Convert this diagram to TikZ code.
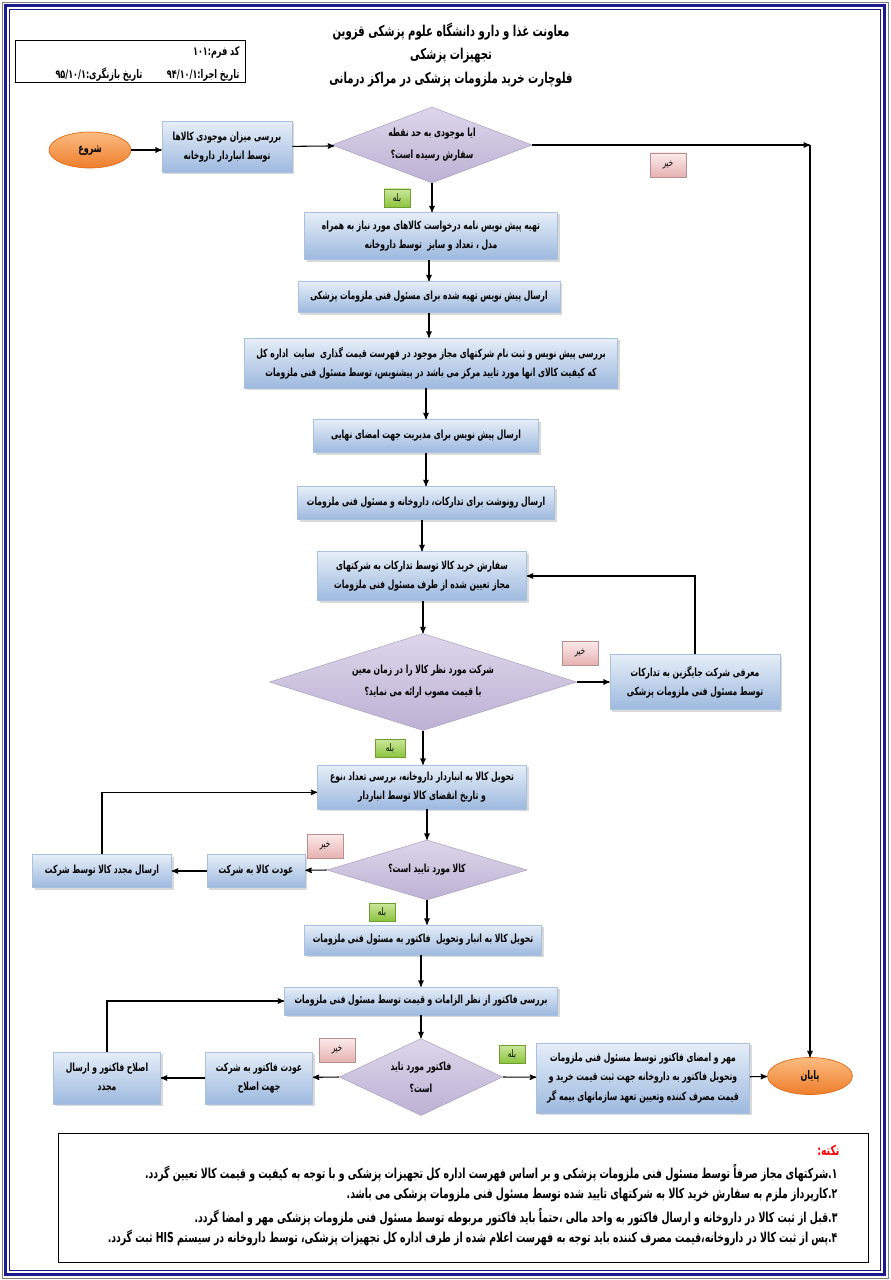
\documentclass[tikz,border=0pt]{standalone}
\usepackage{fontspec}
\newfontfamily\arabicfont[Script=Arabic,FakeStretch=0.68]{DejaVu Sans}
\TeXXeTstate=1
\usetikzlibrary{arrows,shapes.geometric,shadows}
\newcommand{\fatext}[1]{\beginR #1\endR}
\definecolor{boxtop}{HTML}{E6EEF8}
\definecolor{boxbot}{HTML}{9DB9DF}
\definecolor{boxline}{HTML}{A9C0DE}
\definecolor{decitop}{HTML}{DDD6EA}
\definecolor{decibot}{HTML}{BDB1D4}
\definecolor{deciline}{HTML}{ABA1C2}
\definecolor{termtop}{HTML}{FBBB80}
\definecolor{termbot}{HTML}{EE7E2C}
\definecolor{termline}{HTML}{E0690C}
\definecolor{yestop}{HTML}{CBE79A}
\definecolor{yesbot}{HTML}{8CC43F}
\definecolor{noftop}{HTML}{FCEAEA}
\definecolor{nofbot}{HTML}{E6B2B2}
\definecolor{frameblue}{HTML}{1B1B8E}
\tikzset{size px/.style 2 args={minimum width=#1*0.75pt,minimum height=#2*0.75pt}}

\begin{document}
\begin{tikzpicture}[x=0.75pt,y=-0.75pt,>=stealth',thick,
        process node/.style={rectangle,draw=boxline,line width=0.4pt,top color=boxtop,bottom color=boxbot,
            drop shadow={opacity=0.3,shadow xshift=1.5pt,shadow yshift=-1.5pt},
            font=\arabicfont\bfseries\fontsize{8.4}{14.5}\selectfont,align=center,inner sep=1pt},
        decision node/.style={diamond,draw=deciline,line width=0.4pt,top color=decitop,bottom color=decibot,
            font=\arabicfont\bfseries\fontsize{8.4}{16.5}\selectfont,align=center,inner sep=0pt},
        terminal node/.style={ellipse,draw=termline,line width=0.5pt,top color=termtop,bottom color=termbot,
            font=\arabicfont\bfseries\fontsize{8.9}{10}\selectfont,inner sep=0pt},
        yes tag/.style={rectangle,draw=yesbot!80!black,line width=0.3pt,top color=yestop,bottom color=yesbot,
            drop shadow={opacity=0.25,shadow xshift=1pt,shadow yshift=-1pt},
            font=\arabicfont\fontsize{7.8}{8}\selectfont,size px={26}{18},inner sep=0pt},
        no tag/.style={rectangle,draw=nofbot!80!black,line width=0.3pt,top color=noftop,bottom color=nofbot,
            drop shadow={opacity=0.25,shadow xshift=1pt,shadow yshift=-1pt},
            font=\arabicfont\fontsize{7.8}{8}\selectfont,size px={36}{24},inner sep=0pt},
        title text/.style={font=\arabicfont\bfseries\fontsize{11.2}{12}\selectfont,inner sep=0pt},
        form text/.style={font=\arabicfont\bfseries\fontsize{8.9}{10}\selectfont,inner sep=0pt,anchor=east},
        note text/.style={font=\arabicfont\bfseries\fontsize{10.3}{11}\selectfont,inner sep=0pt,anchor=east}]
        \useasboundingbox (0,0) rectangle (890,1280);
        % page frame
        \draw[gray,line width=0.5pt] (2,2) rectangle (888,1278);
        \draw[frameblue,line width=2.6pt] (5.5,5.5) rectangle (884.5,1274.5);
        \draw[frameblue,line width=0.6pt] (9.5,9.5) rectangle (880.5,1270.5);
        % header
        \draw[line width=0.6pt] (15,40) rectangle (245,82);
        \node[form text] (formcode) at (240,52) {\fatext{کد فرم:۱۰۱}};
        \node[form text] (execdate) at (240,75) {\fatext{تاریخ اجرا:\beginL ۹۴/۱۰/۱\endL}};
        \node[form text] (revdate) at (143,75) {\fatext{تاریخ بازنگری:\beginL ۹۵/۱۰/۱\endL}};
        \node[title text] (title1) at (451,32) {\fatext{معاونت غذا و دارو دانشگاه علوم پزشکی قزوین}};
        \node[title text] (title2) at (451,56) {\fatext{تجهیزات پزشکی}};
        \node[title text] (title3) at (451,80) {\fatext{فلوچارت خرید ملزومات پزشکی در مراکز درمانی}};
        % flow nodes
        \node[terminal node,size px={82}{36}] (start) at (90,150) {\fatext{شروع}};
        \node[process node,size px={130}{51}] (stock) at (227,147) {\fatext{بررسی میزان موجودی کالاها}\\\fatext{توسط انباردار داروخانه}};
        \node[decision node,aspect=2.63,size px={200}{76}] (reorder) at (432,145) {\fatext{ایا موجودی به حد نقطه}\\\fatext{سفارش رسیده است؟}};
        \node[process node,size px={253}{47}] (draft) at (431,236) {\fatext{تهیه پیش نویس نامه درخواست کالاهای مورد نیاز به همراه}\\\fatext{مدل ، تعداد و سایز\ \ توسط داروخانه}};
        \node[process node,size px={262}{31}] (senddraft) at (429,297) {\fatext{ارسال پیش نویس تهیه شده برای مسئول فنی ملزومات پزشکی}};
        \node[process node,size px={373}{50}] (review) at (431,363) {\fatext{بررسی پیش نویس و ثبت نام شرکتهای مجاز موجود در فهرست قیمت گذاری\ \ سایت\ \ اداره کل}\\\fatext{که کیفیت کالای انها مورد تایید مرکز می باشد در پیشنویس، توسط مسئول فنی ملزومات}};
        \node[process node,size px={225}{33}] (sign) at (426,436) {\fatext{ارسال پیش نویس برای مدیریت جهت امضای نهایی}};
        \node[process node,size px={257}{33}] (copies) at (426,503) {\fatext{ارسال رونوشت برای تدارکات، داروخانه و مسئول فنی ملزومات}};
        \node[process node,size px={209}{49}] (order) at (422,576) {\fatext{سفارش خرید کالا توسط تدارکات به شرکتهای}\\\fatext{مجاز تعیین شده از طرف مسئول فنی ملزومات}};
        \node[decision node,aspect=3.16,size px={307}{97}] (ontime) at (423,682) {\fatext{شرکت مورد نظر کالا را در زمان معین}\\\fatext{با قیمت مصوب ارائه می نماید؟}};
        \node[process node,size px={170}{55}] (replace) at (695,682) {\fatext{معرفی شرکت جایگزین به تدارکات}\\\fatext{توسط مسئول فنی ملزومات پزشکی}};
        \node[process node,size px={209}{44}] (deliver) at (422,787) {\fatext{تحویل کالا به انباردار داروخانه، بررسی تعداد ،نوع}\\\fatext{و تاریخ انقضای کالا توسط انباردار}};
        \node[decision node,aspect=3.33,size px={200}{60}] (goodsok) at (427,870) {\fatext{کالا مورد تایید است؟}};
        \node[process node,size px={98}{33}] (retgoods) at (256,871) {\fatext{عودت کالا به شرکت}};
        \node[process node,size px={139}{33}] (resend) at (102,871) {\fatext{ارسال مجدد کالا توسط شرکت}};
        \node[process node,size px={237}{30}] (store) at (423,940) {\fatext{تحویل کالا به انبار وتحویل\ \ فاکتور به مسئول فنی ملزومات}};
        \node[process node,size px={273}{28}] (invcheck) at (421,1001) {\fatext{بررسی فاکتور از نظر الزامات و قیمت توسط مسئول فنی ملزومات}};
        \node[decision node,aspect=2.12,size px={163}{77}] (invok) at (421,1077) {\fatext{فاکتور مورد تاید}\\\fatext{است؟}};
        \node[process node,size px={107}{52}] (retinv) at (259,1078) {\fatext{عودت فاکتور به شرکت}\\\fatext{جهت اصلاح}};
        \node[process node,size px={107}{52}] (fixinv) at (107,1078) {\fatext{اصلاح فاکتور و ارسال}\\\fatext{مجدد}};
        \node[process node,size px={213}{70}] (stamp) at (643,1078) {\fatext{مهر و امضای فاکتور توسط مسئول فنی ملزومات}\\\fatext{وتحویل فاکتور به داروخانه جهت ثبت قیمت خرید و}\\\fatext{قیمت مصرف کننده وتعیین تعهد سازمانهای بیمه گر}};
        \node[terminal node,size px={85}{37}] (finish) at (810,1076) {\fatext{پایان}};
        % yes / no tags
        \node[no tag] (no1) at (668,165) {\fatext{خیر}};
        \node[yes tag] (yes1) at (397,198) {\fatext{بله}};
        \node[no tag] (no2) at (580,653) {\fatext{خیر}};
        \node[yes tag,size px={30}{18}] (yes2) at (390,748) {\fatext{بله}};
        \node[no tag] (no3) at (325,846) {\fatext{خیر}};
        \node[yes tag] (yes3) at (382,912) {\fatext{بله}};
        \node[no tag] (no4) at (337,1050) {\fatext{خیر}};
        \node[yes tag] (yes4) at (512,1054) {\fatext{بله}};
        % connectors
        \coordinate (corner) at (reorder.east -| finish.north);
        \draw[->] (start.east) -- (start.east -| stock.west);
        \draw[->] (stock) -- (reorder);
        \draw[->] (reorder.east) -- (corner);
        \draw[->] (corner) -- (finish.north);
        \draw[->] (reorder.south) -- (reorder.south |- draft.north);
        \draw[->] (draft.south -| senddraft) -- (senddraft.north);
        \draw[->] (senddraft.south) -- (senddraft.south |- review.north);
        \draw[->] (review.south -| sign) -- (sign.north);
        \draw[->] (sign) -- (copies);
        \draw[->] (copies.south -| order) -- (order.north);
        \draw[->] (order.south -| ontime.north) -- (ontime.north);
        \draw[->] (ontime.east) -- (replace);
        \draw[->] (replace.north) |- (order.east);
        \draw[->] (ontime.south) -- (ontime.south |- deliver.north);
        \draw[->] (deliver.south -| goodsok.north) -- (goodsok.north);
        \draw[->] (goodsok.west) -- (retgoods);
        \draw[->] (retgoods) -- (resend);
        \draw[->] (resend.north) |- ([yshift=-4pt]deliver.west);
        \draw[->] (goodsok.south) -- (goodsok.south |- store.north);
        \draw[->] (store.south -| invcheck) -- (invcheck.north);
        \draw[->] (invcheck) -- (invok.north);
        \draw[->] (invok.west) -- (retinv);
        \draw[->] (retinv) -- (fixinv);
        \draw[->] (fixinv.north) |- (invcheck.west);
        \draw[->] (invok.east) -- (stamp);
        \draw[->] (stamp) -- (finish);
        % notes
        \draw[line width=0.6pt] (58,1133) rectangle (868,1262);
        \node[note text,text=red] (notehead) at (840,1150) {\fatext{نکته:}};
        \node[note text] (note1) at (838,1173) {\fatext{۱.شرکتهای مجاز صرفاً توسط مسئول فنی ملزومات پزشکی و بر اساس فهرست اداره کل تجهیزات پزشکی و با توجه به کیفیت و قیمت کالا تعیین گردد.}};
        \node[note text] (note2) at (838,1195) {\fatext{۲.کارپرداز ملزم به سفارش خرید کالا به شرکتهای تایید شده توسط مسئول فنی ملزومات پزشکی می باشد.}};
        \node[note text] (note3) at (838,1217) {\fatext{۳.قبل از ثبت کالا در داروخانه و ارسال فاکتور به واحد مالی ،حتماً باید فاکتور مربوطه توسط مسئول فنی ملزومات پزشکی مهر و امضا گردد.}};
        \node[note text] (note4) at (838,1238) {\fatext{۴.پس از ثبت کالا در داروخانه،قیمت مصرف کننده باید توجه به فهرست اعلام شده از طرف اداره کل تجهیزات پزشکی، توسط داروخانه در سیستم \beginL HIS\endL\ ثبت گردد.}};
\end{tikzpicture}
\end{document}
